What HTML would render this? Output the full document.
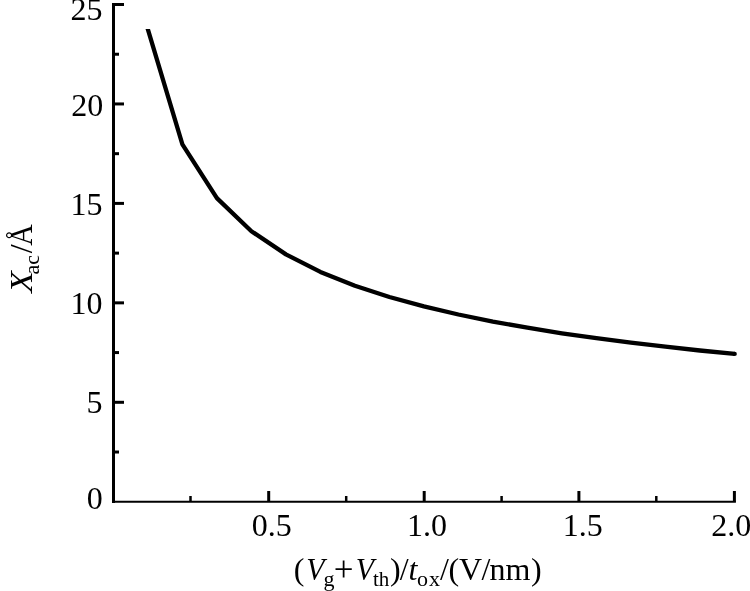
<!DOCTYPE html>
<html><head><meta charset="utf-8"><title>chart</title>
<style>
html,body{margin:0;padding:0;background:#fff;}
body{width:750px;height:591px;overflow:hidden;position:relative;}
svg{position:absolute;left:0;top:0;display:block;}
svg text{font-family:"Liberation Serif","Times New Roman",serif;font-size:32px;fill:#000;}
.ax line{stroke:#000;stroke-width:3;fill:none;stroke-linecap:butt;}
</style></head><body>
<svg width="750" height="591" viewBox="0 0 750 591">
<defs><clipPath id="cc"><rect x="0" y="28.9" width="750" height="562.1"/></clipPath></defs>
<rect width="750" height="591" fill="#fff"/>
<g class="ax">
<line x1="113.5" y1="3" x2="113.5" y2="502.9"/>
<line x1="112" y1="501.75" x2="735.9" y2="501.75" style="stroke-width:2.2"/>
<line x1="113.5" y1="452.02" x2="119" y2="452.02"/>
<line x1="113.5" y1="402.30" x2="124" y2="402.30"/>
<line x1="113.5" y1="352.57" x2="119" y2="352.57"/>
<line x1="113.5" y1="302.85" x2="124" y2="302.85"/>
<line x1="113.5" y1="253.12" x2="119" y2="253.12"/>
<line x1="113.5" y1="203.40" x2="124" y2="203.40"/>
<line x1="113.5" y1="153.68" x2="119" y2="153.68"/>
<line x1="113.5" y1="103.95" x2="124" y2="103.95"/>
<line x1="113.5" y1="54.23" x2="119" y2="54.23"/>
<line x1="113.5" y1="4.50" x2="124" y2="4.50"/>
<line x1="268.7" y1="501.75" x2="268.7" y2="491"/>
<line x1="424.2" y1="501.75" x2="424.2" y2="491"/>
<line x1="578.9" y1="501.75" x2="578.9" y2="491"/>
<line x1="734.4" y1="501.75" x2="734.4" y2="491"/>
<line x1="190.5" y1="501.75" x2="190.5" y2="496" style="stroke-width:2.5"/>
<line x1="346.2" y1="501.75" x2="346.2" y2="496" style="stroke-width:2.5"/>
<line x1="501.6" y1="501.75" x2="501.6" y2="496" style="stroke-width:2.5"/>
<line x1="656.3" y1="501.75" x2="656.3" y2="496" style="stroke-width:2.5"/>
</g>
<g clip-path="url(#cc)"><polyline points="144.5,18.1 182.4,144.4 216.9,198.1 251.4,231.2 285.9,254.4 320.4,271.9 354.9,285.7 389.4,297.0 423.9,306.4 458.4,314.5 492.9,321.6 527.4,327.7 561.9,333.3 596.4,338.2 630.9,342.7 665.4,346.7 699.9,350.5 734.7,353.9" fill="none" stroke="#000" stroke-width="4.3" stroke-linejoin="round" stroke-linecap="butt"/>
<circle cx="734.7" cy="353.9" r="2.15" fill="#000"/></g>
<g>
<text x="102.5" y="20.2" text-anchor="end">25</text>
<text x="103.3" y="116" text-anchor="end">20</text>
<text x="102.5" y="215" text-anchor="end">15</text>
<text x="102.5" y="313.9" text-anchor="end">10</text>
<text x="102.5" y="413" text-anchor="end">5</text>
<text x="102.7" y="509.4" text-anchor="end">0</text>
</g>
<g>
<text x="271.7" y="536.4" text-anchor="middle">0.5</text>
<text x="427.0" y="536.4" text-anchor="middle">1.0</text>
<text x="582.8" y="536.4" text-anchor="middle">1.5</text>
<text x="731.3" y="536.4" text-anchor="middle">2.0</text>
</g>
<text><tspan x="293.8" y="579.8">(</tspan><tspan x="306.2" y="579.8" textLength="18.2" lengthAdjust="spacingAndGlyphs" font-style="italic">V</tspan><tspan x="323.6" y="586.0" font-size="22">g</tspan><tspan x="333.8" y="581.2" font-size="35">+</tspan><tspan x="355.7" y="579.8" textLength="18.2" lengthAdjust="spacingAndGlyphs" font-style="italic">V</tspan><tspan x="372.9" y="585.9" font-size="21">th</tspan><tspan x="390" y="579.8">)</tspan><tspan x="399.8" y="579.8">/</tspan><tspan x="408.4" y="579.8" font-style="italic">t</tspan><tspan x="417.0" y="586.0" font-size="22" letter-spacing="1.0">ox</tspan><tspan x="440" y="579.8">/</tspan><tspan x="448.5" y="579.8">(</tspan><tspan x="458.9" y="579.8">V</tspan><tspan x="481.5" y="579.8">/</tspan><tspan x="489.5" y="579.8">nm</tspan><tspan x="531" y="579.8">)</tspan></text>
<text transform="translate(32,293) rotate(-90)"><tspan x="0.2" y="0" textLength="21.5" lengthAdjust="spacingAndGlyphs" font-style="italic">X</tspan><tspan x="18.5" y="7" font-size="22">ac</tspan><tspan x="39.7" y="0">/</tspan><tspan x="47.3" y="0" textLength="21.5" lengthAdjust="spacingAndGlyphs">Å</tspan></text>
</svg>
</body></html>
